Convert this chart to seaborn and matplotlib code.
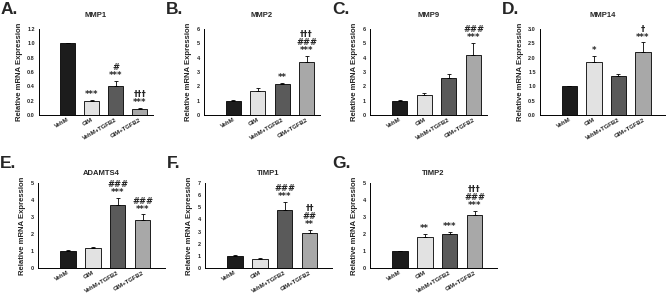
import matplotlib
matplotlib.use("Agg")
import matplotlib.pyplot as plt
import seaborn as sns
import pandas as pd
import numpy as np

sns.set_style("white")
plt.rcParams['font.family'] = ['Liberation Sans', 'DejaVu Sans']

groups = ["VehM", "GIM", "VehM+TGFB2", "GIM+TGFB2"]
colors = ["#1c1c1c", "#e2e2e2", "#5a5a5a", "#a8a8a8"]

mmp1 = [1.0, 0.20, 0.40, 0.09]
mmp1_err = [0.01, 0.01, 0.08, 0.005]
mmp2 = [1.0, 1.65, 2.15, 3.7]
mmp2_err = [0.03, 0.2, 0.1, 0.4]
mmp9 = [1.0, 1.43, 2.6, 4.2]
mmp9_err = [0.05, 0.1, 0.25, 0.85]
mmp14 = [1.0, 1.85, 1.35, 2.2]
mmp14_err = [0.01, 0.22, 0.08, 0.33]
adamts4 = [1.0, 1.2, 3.7, 2.8]
adamts4_err = [0.03, 0.04, 0.4, 0.35]
timp1 = [1.0, 0.75, 4.75, 2.9]
timp1_err = [0.03, 0.05, 0.7, 0.25]
timp2 = [1.0, 1.85, 2.02, 3.1]
timp2_err = [0.02, 0.15, 0.08, 0.25]

sig_mmp1 = ["", "***", "#\n***", "†††\n***"]
sig_mmp2 = ["", "", "**", "†††\n###\n***"]
sig_mmp9 = ["", "", "", "###\n***"]
sig_mmp14 = ["", "*", "", "†\n***"]
sig_adamts4 = ["", "", "###\n***", "###\n***"]
sig_timp1 = ["", "", "###\n***", "††\n##\n**"]
sig_timp2 = ["", "**", "***", "†††\n###\n***"]

yticks_mmp1 = [0.0, 0.2, 0.4, 0.6, 0.8, 1.0, 1.2]
yticks_6 = [0, 1, 2, 3, 4, 5, 6]
yticks_mmp14 = [0.0, 0.5, 1.0, 1.5, 2.0, 2.5, 3.0]
yticks_5 = [0, 1, 2, 3, 4, 5]
yticks_7 = [0, 1, 2, 3, 4, 5, 6, 7]

W, H = 669, 293
fig = plt.figure(figsize=(W / 100, H / 100), dpi=100)

panels = [
    ("A.", "MMP1", mmp1, mmp1_err, sig_mmp1, yticks_mmp1, "{:.1f}", (39, 153, 29, 115)),
    ("B.", "MMP2", mmp2, mmp2_err, sig_mmp2, yticks_6, "{:.0f}", (204, 320, 29, 115)),
    ("C.", "MMP9", mmp9, mmp9_err, sig_mmp9, yticks_6, "{:.0f}", (370, 487, 29, 115)),
    ("D.", "MMP14", mmp14, mmp14_err, sig_mmp14, yticks_mmp14, "{:.1f}", (540, 665, 29, 115)),
    ("E.", "ADAMTS4", adamts4, adamts4_err, sig_adamts4, yticks_5, "{:.0f}", (38, 165, 183, 268)),
    ("F.", "TIMP1", timp1, timp1_err, sig_timp1, yticks_7, "{:.0f}", (205, 332, 183, 268)),
    ("G.", "TIMP2", timp2, timp2_err, sig_timp2, yticks_5, "{:.0f}", (370, 497, 183, 268)),
]

for label, title, vals, errs, sigs, yticks, fmt, (l, r, t, b) in panels:
    ax = fig.add_axes([l / W, 1 - b / H, (r - l) / W, (b - t) / H])
    df = pd.DataFrame({"group": groups, "value": vals})
    sns.barplot(data=df, x="group", y="value", hue="group", order=groups,
                hue_order=groups, palette=colors, edgecolor="black",
                linewidth=0.6, width=0.62, errorbar=None, legend=False, ax=ax)
    ax.errorbar(np.arange(4), vals, yerr=[np.zeros(4), errs], fmt="none",
                ecolor="black", elinewidth=0.6, capsize=1.5, capthick=0.6)
    ymax = yticks[-1]
    ax.set_ylim(0, ymax)
    span = r - l
    ax.set_xlim(-1.2, 3.55 if span < 120 else 3.9)
    ax.set_yticks(yticks)
    ax.set_yticklabels([fmt.format(v) for v in yticks], fontsize=4, fontweight="bold")
    ax.set_xticks(range(4))
    ax.set_xticklabels(groups, rotation=30, ha="right", rotation_mode="anchor",
                       fontsize=4.3, fontweight="bold")
    ax.tick_params(axis="both", length=1.5, width=0.6, pad=1.5, direction="out")
    ax.tick_params(axis="x", length=0)
    sns.despine(ax=ax)
    for s in ["left", "bottom"]:
        ax.spines[s].set_linewidth(0.7)
        ax.spines[s].set_color("black")
    ax.set_xlabel("")
    ax.set_ylabel("Relative mRNA Expression", fontsize=5.6, fontweight="bold", labelpad=3)
    ax.set_title(title, fontsize=5.5, fontweight="bold", pad=(9 if t < 100 else 5.5))
    for i, s in enumerate(sigs):
        if s:
            ax.text(i, vals[i] + errs[i] + ymax * 0.01, s, ha="center", va="bottom",
                    fontsize=6, fontweight="bold", linespacing=0.85,
                    family=["DejaVu Sans"])
    fig.text((l - 38) / W, 1 - (t - 27) / H, label, fontsize=12.5, fontweight="bold",
             ha="left", va="top", family=["Liberation Sans"])

fig.savefig("out.png", dpi=100, facecolor="white")
